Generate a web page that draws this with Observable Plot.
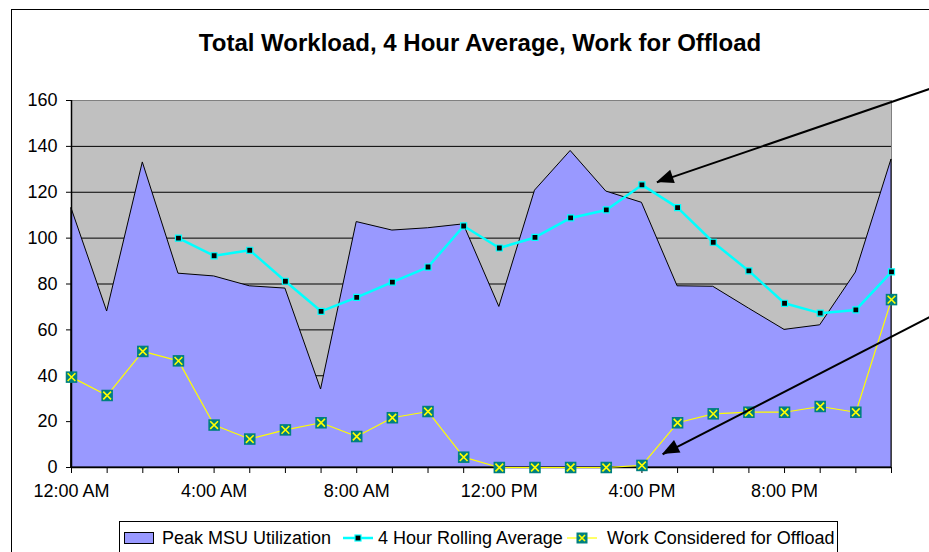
<!DOCTYPE html>
<html>
<head>
<meta charset="utf-8">
<script src="https://cdn.jsdelivr.net/npm/d3@7"></script>
<script src="https://cdn.jsdelivr.net/npm/@observablehq/plot@0.6"></script>
<style>
  body { margin: 0; background: #fff; font-family: "Liberation Sans", Arial, sans-serif; }
  #wrap { position: relative; width: 929px; height: 552px; overflow: hidden; background: #fff; }
  #border { position: absolute; left: 11px; top: 9px; width: 1000px; height: 600px; border: 1px solid #000; box-sizing: border-box; }
  #title { position: absolute; left: 0; width: 960px; top: 29px; text-align: center; font-weight: bold; font-size: 24px; color: #000; line-height: 28px; }
  #chart { position: absolute; left: 0; top: 0; }
  #legend { position: absolute; left: 119px; top: 521px; width: 719px; height: 40px; border: 1px solid #000; background: #fff; box-sizing: border-box; font-size: 18px; color: #000; }
  #legend .t { position: absolute; top: 5px; line-height: 22px; white-space: nowrap; }
  #legend svg { position: absolute; }
</style>
</head>
<body>
<div id="wrap">
  <div id="border"></div>
  <div id="title"></div>
  <div id="chart"></div>
  <div id="legend"></div>
</div>
<script>
// ---- Data ----
const titleText = "Total Workload, 4 Hour Average, Work for Offload";
const hours = [0, 1, 2, 3, 4, 5, 6, 7, 8, 9, 10, 11, 12, 13, 14, 15, 16, 17, 18, 19, 20, 21, 22, 23];
const labelHours = [0, 4, 8, 12, 16, 20];
const xTickLabels = ["12:00 AM", "4:00 AM", "8:00 AM", "12:00 PM", "4:00 PM", "8:00 PM"];
const yTicks = [0, 20, 40, 60, 80, 100, 120, 140, 160];
const gridValues = [20, 40, 60, 80, 100, 120, 140];

const peakMSU = [113, 68, 133, 84.5, 83.3, 79, 78, 34, 107, 103.3, 104.3, 106, 70, 120.7, 138, 120.3, 115.4, 79, 78.8, 69.3, 60, 62, 85, 134.3];
const rollingAvg = [null, null, null, 100, 92.3, 94.7, 81.2, 68.1, 74.2, 80.8, 87.4, 105.3, 95.7, 100.3, 108.8, 112.3, 123.2, 113.3, 98.2, 85.7, 71.6, 67.3, 68.7, 85.3];
const offload = [39.4, 31.4, 50.6, 46.5, 18.5, 12.4, 16.4, 19.5, 13.5, 21.7, 24.4, 4.5, 0, 0, 0, 0, 0.9, 19.5, 23.4, 24.1, 24.1, 26.6, 24.1, 73.2];

const seriesNames = ["Peak MSU Utilization", "4 Hour Rolling Average", "Work Considered for Offload"];

// annotation arrows (data units: hour, value)
const arrowFromX = [24.25, 24.25];
const arrowFromY = [166, 67];
const arrowToX = [16.42, 16.58];
const arrowToY = [124.3, 5.7];

// ---- Build ----
const rows = hours.map((h, i) => ({hour: h, peak: peakMSU[i], avg: rollingAvg[i], offload: offload[i]}));
const arrows = arrowFromX.map((x, i) => ({x1: x, y1: arrowFromY[i], x2: arrowToX[i], y2: arrowToY[i]}));

document.getElementById("title").textContent = titleText;

const arrowHeads = (index, scales) => {
  const g = d3.create("svg:g");
  for (const a of arrows) {
    const x1 = scales.x(a.x1), y1 = scales.y(a.y1), x2 = scales.x(a.x2), y2 = scales.y(a.y2);
    const ang = Math.atan2(y2 - y1, x2 - x1);
    const L = 17, W = 7;
    const bx = x2 - L * Math.cos(ang), by = y2 - L * Math.sin(ang);
    const px = -Math.sin(ang) * W, py = Math.cos(ang) * W;
    g.append("path")
      .attr("d", `M${x2},${y2}L${bx + px},${by + py}L${bx - px},${by - py}Z`)
      .attr("fill", "#000");
  }
  return g.node();
};

const chart = Plot.plot({
  width: 929,
  height: 552,
  marginLeft: 71,
  marginRight: 38,
  marginTop: 100,
  marginBottom: 85,
  style: {fontFamily: "'Liberation Sans', Arial, sans-serif", fontSize: "18px", color: "#000", background: "transparent", overflow: "visible"},
  x: {domain: [0, 23]},
  y: {domain: [0, 160]},
  marks: [
    Plot.frame({fill: "#c0c0c0", stroke: "#808080"}),
    Plot.gridY(gridValues, {stroke: "#000", strokeOpacity: 1, strokeWidth: 1}),
    Plot.areaY(rows, {x: "hour", y: "peak", fill: "#9999ff", stroke: "#000", strokeWidth: 1}),
    Plot.ruleX([0], {stroke: "#000", strokeWidth: 1.5}),
    Plot.ruleY([0], {stroke: "#000", strokeWidth: 1.5}),
    Plot.axisY({ticks: yTicks, tickSize: 5, tickPadding: 9, label: null, stroke: "#000"}),
    Plot.axisX({ticks: hours, tickSize: 6, tickFormat: () => "", label: null, stroke: "#000"}),
    Plot.axisX({ticks: labelHours, tickSize: 0, tickPadding: 17, tickFormat: (d) => xTickLabels[labelHours.indexOf(d)], label: null}),
    Plot.line(rows, {x: "hour", y: "offload", stroke: "#ffff00", strokeWidth: 1.2}),
    Plot.dot(rows, {x: "hour", y: "offload", symbol: "square", fill: "#008080", r: 6.5}),
    Plot.dot(rows, {x: "hour", y: "offload", symbol: "times", stroke: "#ffff00", r: 3.6, strokeWidth: 1.6}),
    Plot.line(rows.filter(d => d.avg != null), {x: "hour", y: "avg", stroke: "#00ffff", strokeWidth: 2.5}),
    Plot.dot(rows.filter(d => d.avg != null), {x: "hour", y: "avg", symbol: "square", fill: "#000", stroke: "#00ffff", strokeWidth: 1.2, r: 3.4}),
    Plot.link(arrows, {x1: "x1", y1: "y1", x2: "x2", y2: "y2", stroke: "#000", strokeWidth: 2}),
    arrowHeads
  ]
});
document.getElementById("chart").appendChild(chart);

// ---- Legend ----
const legend = document.getElementById("legend");
function addText(txt, left) {
  const d = document.createElement("div");
  d.className = "t"; d.style.left = left + "px"; d.textContent = txt;
  legend.appendChild(d);
}
function addSvg(left, build) {
  const s = d3.create("svg").attr("width", 34).attr("height", 20).style("left", left + "px").style("top", "6px");
  build(s);
  legend.appendChild(s.node());
}
addSvg(3, s => s.append("rect").attr("x", 1.5).attr("y", 4.5).attr("width", 29).attr("height", 11).attr("fill", "#9999ff").attr("stroke", "#000"));
addText(seriesNames[0], 42);
addSvg(222, s => {
  s.append("line").attr("x1", 1).attr("x2", 31).attr("y1", 10).attr("y2", 10).attr("stroke", "#00ffff").attr("stroke-width", 2.5);
  s.append("rect").attr("x", 13).attr("y", 7).attr("width", 6).attr("height", 6).attr("fill", "#000").attr("stroke", "#00ffff").attr("stroke-width", 1.2);
});
addText(seriesNames[1], 258);
addSvg(446, s => {
  s.append("line").attr("x1", 1).attr("x2", 31).attr("y1", 10).attr("y2", 10).attr("stroke", "#ffff00").attr("stroke-width", 1.2);
  s.append("rect").attr("x", 10.5).attr("y", 4.5).attr("width", 11).attr("height", 11).attr("fill", "#008080");
  s.append("path").attr("d", "M13,7L19,13M19,7L13,13").attr("stroke", "#ffff00").attr("stroke-width", 1.6);
});
addText(seriesNames[2], 487);
</script>
</body>
</html>
